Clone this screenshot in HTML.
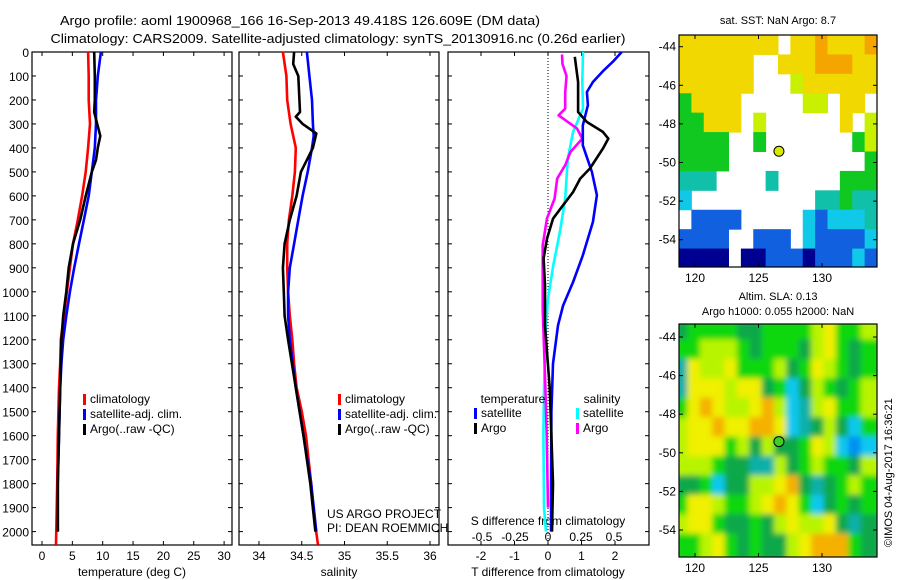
<!DOCTYPE html>
<html><head><meta charset="utf-8"><style>
html,body{margin:0;padding:0;background:#fff;}
svg{display:block;font-family:"Liberation Sans",sans-serif;}
</style></head><body>
<svg id="c" width="900" height="580" viewBox="0 0 900 580" xmlns="http://www.w3.org/2000/svg">
<defs>
<filter id="blur" x="-5%" y="-5%" width="110%" height="110%"><feGaussianBlur stdDeviation="3"/></filter>
<clipPath id="clip2"><rect x="679" y="324" width="198" height="233"/></clipPath>
<clipPath id="clip1"><rect x="679" y="35" width="198" height="232"/></clipPath>
</defs>
<text x="300" y="25" font-size="13" text-anchor="middle" textLength="480" lengthAdjust="spacingAndGlyphs">Argo profile: aoml 1900968_166 16-Sep-2013 49.418S 126.609E (DM data)</text>
<text x="338" y="43" font-size="13" text-anchor="middle" textLength="575" lengthAdjust="spacingAndGlyphs">Climatology: CARS2009. Satellite-adjusted climatology: synTS_20130916.nc (0.26d earlier)</text>
<text x="778" y="24" font-size="11" text-anchor="middle">sat. SST: NaN Argo: 8.7</text>
<text x="778" y="300" font-size="11" text-anchor="middle">Altim. SLA: 0.13</text>
<text x="778" y="315" font-size="11" text-anchor="middle">Argo h1000: 0.055 h2000: NaN</text>
<text transform="translate(892,547) rotate(-90)" font-size="11">©IMOS 04-Aug-2017 16:36:21</text>
<g id="g"></g>
</svg>
<script>
// ---- data ----
const depthTicks = [0,100,200,300,400,500,600,700,800,900,1000,1100,1200,1300,1400,1500,1600,1700,1800,1900,2000];
const tempTicks = [0,5,10,15,20,25,30];
const salTicks = [34,34.5,35,35.5,36];
const tdiffTicks = [-2,-1,0,1,2];
const sdiffTicks = [-0.5,-0.25,0,0.25,0.5];
const latTicks = [-44,-46,-48,-50,-52,-54];
const lonTicks = [120,125,130];

const tClimDepth = [0,100,200,300,400,500,600,700,800,900,1000,1100,1200,1300,1400,1600,1800,2055];
const tClimVal   = [7.6,7.7,7.7,7.9,7.6,7.2,6.6,5.9,5.1,4.6,4.1,3.6,3.1,3.0,2.8,2.6,2.5,2.3];
const tSatDepth = [0,100,200,300,400,500,600,700,800,900,1000,1100,1200,1300,1400,1600,1800,2000];
const tSatVal   = [9.7,9.2,8.9,8.9,8.7,8.2,7.7,6.9,6.1,5.3,4.6,4.0,3.5,3.2,3.0,2.8,2.6,2.6];
const tArgoDepth = [0,100,200,250,300,350,400,450,500,600,700,800,900,1000,1100,1200,1400,1600,1800,2000];
const tArgoVal   = [8.6,8.7,8.7,8.6,9.1,9.6,9.2,8.9,8.2,7.2,6.3,5.1,4.4,4.0,3.5,3.2,3.0,2.8,2.6,2.6];

const sClimDepth = [0,100,200,300,400,500,600,700,800,900,1000,1100,1200,1300,1400,1500,1600,1700,1800,1900,2055];
const sClimVal   = [34.28,34.32,34.33,34.37,34.43,34.42,34.39,34.35,34.33,34.33,34.34,34.36,34.39,34.41,34.44,34.50,34.55,34.58,34.61,34.63,34.69];
const sSatDepth = [0,100,200,300,350,400,500,600,700,800,900,1000,1100,1200,1400,1600,1800,2000];
const sSatVal   = [34.56,34.59,34.62,34.63,34.64,34.62,34.57,34.51,34.46,34.41,34.36,34.34,34.34,34.36,34.43,34.52,34.61,34.67];
const sArgoDepth = [0,50,100,250,270,300,340,400,450,500,600,700,800,900,1000,1100,1200,1400,1600,1800,2000];
const sArgoVal   = [34.41,34.40,34.46,34.48,34.43,34.51,34.67,34.63,34.56,34.49,34.44,34.36,34.30,34.28,34.29,34.30,34.34,34.43,34.52,34.60,34.66];

const dTSatDepth = [0,40,80,125,167,222,306,389,500,597,709,848,959,1057,1140,1300,1500,2000];
const dTSatVal   = [2.2,1.94,1.64,1.34,1.16,1.19,1.04,1.04,1.31,1.46,1.34,1.04,0.75,0.45,0.3,0.15,0.1,0.09];
const dTArgoDepth = [20,125,250,292,333,361,403,486,528,584,639,695,778,861,973,1140,1400,1600,1800,2000];
const dTArgoVal   = [0.8,0.9,0.9,1.16,1.64,1.8,1.64,1.25,0.96,0.75,0.45,0.15,-0.03,-0.13,-0.09,-0.09,0.05,0.1,0.15,0.12];
const dSSatDepth = [0,125,236,333,444,611,750,889,1028,1140,1400,1600,1900,2000];
const dSSatVal   = [0.265,0.26,0.265,0.19,0.15,0.13,0.09,0.04,0,-0.015,-0.03,-0.035,-0.03,-0.015];
const dSArgoDepth = [10,50,100,170,236,264,319,361,417,472,528,611,695,806,1070,1400,1600,1900];
const dSArgoVal   = [0.106,0.11,0.14,0.13,0.13,0.08,0.22,0.26,0.17,0.13,0.07,0.05,-0.008,-0.04,-0.04,-0.02,-0.01,0];

const sstGrid = [
"yyyyyyyy.yyoyyyo",
"yyyyyy..yyyoooyy",
"yyyyyy...lyyyyyy",
"gyyyy.....ll.yy.",
"ggyyy.l......y.l",
"gggg..g.......gl",
"gggg...........g",
"ttt....t.....ggg",
"c..........ttgtt",
".bbbb.....cbccct",
"bbbb..bbb.cbbbbc",
"nnnn.nnbbbnbbbcb"];
const slaGrid = [
"GggggGGgggglyggl",
"gglllgGgggGlygGg",
"tyllyggglGgylgGg",
"tyyylyyGgcGlgGgl",
"gyoyllyolctlyggl",
"lyyoyyooyctGlGcg",
"lyyyglGlGGgylcbc",
"lllgGGttlGglggGl",
"GGgcGGllyoGtGglg",
"gyylgglyoygcGgGg",
"lyygGGgGlyllyGtG",
"gglygGgGGlyooogG"];
const argoLon = 126.609, argoLat = -49.418;

// ---- scales ----
const yD = d => 52 + d*0.2398;
const xT = t => 42 + t*6.07;
const xS = s => 259 + (s-34)*85.5;
const xTd = d => 548 + d*33.5;
const xSd = s => 548 + s*132;
const lonX = lo => 695 + (lo-120)*12.7;
const latY1 = la => 46.7 + (-44-la)*19.3;
const latY2 = la => 337 + (-44-la)*19.3;

const NS="http://www.w3.org/2000/svg";
const G=document.getElementById('g');
function el(tag, attrs, parent){const e=document.createElementNS(NS,tag);for(const k in attrs)e.setAttribute(k,attrs[k]);(parent||G).appendChild(e);return e;}
function txt(x,y,s,size,anchor,parent){const t=el('text',{x:x,y:y,'font-size':size,'text-anchor':anchor||'middle'},parent);t.textContent=s;return t;}

// ---- maps ----
const sstCol={o:'#f5a500',y:'#f0d800',l:'#c8f000',g:'#10c820',t:'#10c0a8',c:'#10c8e8',b:'#1060e0',n:'#000090'};
const slaCol={G:'#10a848',g:'#10d810',l:'#b8f400',y:'#f0f000',o:'#f5b000',t:'#10b0a8',c:'#10c8f0',b:'#0090f0'};
function drawMap(grid,cols,top,clip,name,blur){
  const g=el('g',{'clip-path':'url(#'+clip+')'});
  
  
  const inner=el('g',blur?{filter:'url(#blur)'}:{},g);
  const cw=198/16, ch=233/12;
  grid.forEach((row,r)=>{for(let c=0;c<row.length;c++){const k=row[c];if(cols[k]){
    const cell=el('rect',{x:679+c*cw-(blur?4:0),y:top+r*ch-(blur?4:0),width:cw+(blur?8:0.5),height:ch+(blur?8:0.5),fill:cols[k]},inner);
    
    
  }}});
}
drawMap(sstGrid,sstCol,35,'clip1','sst-map',false);
drawMap(slaGrid,slaCol,324,'clip2','sla-map',true);
[[35,latY1,'sst'],[324,latY2,'sla']].forEach(([top,ly,nm])=>{
  const fr=el('rect',{x:679,y:top,width:198,height:(nm==='sst'?232:233),fill:'none',stroke:'#000','stroke-width':1.2});
  
  
  const bottom=top+(nm==='sst'?232:233);
  latTicks.forEach(la=>{const y=ly(la);
    el('line',{x1:679,x2:683,y1:y,y2:y,stroke:'#000'});el('line',{x1:873,x2:877,y1:y,y2:y,stroke:'#000'});
    const t=txt(676,y+4,String(la),12,'end');
    
    });
  lonTicks.forEach(lo=>{const x=lonX(lo);
    el('line',{x1:x,x2:x,y1:top,y2:top+4,stroke:'#000'});el('line',{x1:x,x2:x,y1:bottom-4,y2:bottom,stroke:'#000'});
    const t=txt(x,bottom+15,String(lo),12);
    
    });
  const m=el('circle',{cx:lonX(argoLon),cy:ly(argoLat),r:5,fill:nm==='sst'?'#d8e800':'#40d020',stroke:'#000','stroke-width':1});
  
  
});

// ---- profile panels ----
const panels=[[32,232,'temperature'],[239,439,'salinity'],[448,649,'difference']];
panels.forEach(([x0,x1,nm])=>{
  const r=el('rect',{x:x0,y:52,width:x1-x0,height:493,fill:'none',stroke:'#000','stroke-width':1.2});
  
  
  depthTicks.forEach(d=>{const y=yD(d);
    el('line',{x1:x0,x2:x0+4,y1:y,y2:y,stroke:'#000'});el('line',{x1:x1-4,x2:x1,y1:y,y2:y,stroke:'#000'});});
});
depthTicks.forEach(d=>{const t=txt(29,yD(d)+5,String(d),12,'end');
  
  });
function xticks(ticks,fx,y,x0,x1,labY,nm,noMarks){ticks.forEach(v=>{const x=fx(v);
  if(!noMarks){el('line',{x1:x,x2:x,y1:52,y2:56,stroke:'#000'});el('line',{x1:x,x2:x,y1:541,y2:545,stroke:'#000'});}
  const t=txt(x,labY,String(v),12);
  
  });}
xticks(tempTicks,xT,0,32,232,560,'temperature-tick-label');
xticks(salTicks,xS,0,239,439,560,'salinity-tick-label');
xticks(tdiffTicks,xTd,0,448,649,560,'tdiff-tick-label');
xticks(sdiffTicks,xSd,0,448,649,541,'sdiff-tick-label',true);
[[132,576,'temperature (deg C)','temperature-axis-title'],[339,576,'salinity','salinity-axis-title'],[548,576,'T difference from climatology','tdiff-axis-title'],[548,525,'S difference from climatology','sdiff-axis-title']].forEach(([x,y,s,n])=>{const t=txt(x,y,s,12);
  
  });
const zl=el('line',{x1:xTd(0),x2:xTd(0),y1:52,y2:545,stroke:'#000','stroke-dasharray':'1,2'});



function line(ds,vs,fx,col,nm){
  const p=ds.map((d,i)=>fx(vs[i]).toFixed(1)+','+yD(d).toFixed(1)).join(' ');
  const pl=el('polyline',{points:p,fill:'none',stroke:col,'stroke-width':2.6,'stroke-linejoin':'round'});
  
  
}
line(tClimDepth,tClimVal,xT,'#ff0000','temp-climatology-line');
line(tSatDepth,tSatVal,xT,'#0000ff','temp-satellite-line');
line(tArgoDepth,tArgoVal,xT,'#000000','temp-argo-line');
line(sClimDepth,sClimVal,xS,'#ff0000','sal-climatology-line');
line(sSatDepth,sSatVal,xS,'#0000ff','sal-satellite-line');
line(sArgoDepth,sArgoVal,xS,'#000000','sal-argo-line');
line(dSSatDepth,dSSatVal,xSd,'#00ffff','sdiff-satellite-line');
line(dSArgoDepth,dSArgoVal,xSd,'#ff00ff','sdiff-argo-line');
line(dTSatDepth,dTSatVal,xTd,'#0000ff','tdiff-satellite-line');
line(dTArgoDepth,dTArgoVal,xTd,'#000000','tdiff-argo-line');

// legends
function leg(x,y,col,s,nm){
  const r=el('rect',{x:x,y:y-9,width:3,height:11,fill:col});
  
  
  const t=txt(x+7,y,s,12,'start');
  
  
}
[[32+51,'temp'],[239+99,'sal']].forEach(([x,p])=>{
  leg(x,403,'#ff0000','climatology',p+'-legend-climatology');
  leg(x,418,'#0000ff','satellite-adj. clim.',p+'-legend-satellite');
  leg(x,433,'#000000','Argo(..raw -QC)',p+'-legend-argo');
});
let t1=txt(513,403,'temperature',12);


let t2=txt(602,403,'salinity',12);


leg(474,417,'#0000ff','satellite','diff-legend-t-satellite');
leg(474,432,'#000000','Argo','diff-legend-t-argo');
leg(576,417,'#00ffff','satellite','diff-legend-s-satellite');
leg(576,432,'#ff00ff','Argo','diff-legend-s-argo');
let p1=txt(327,518,'US ARGO PROJECT',12,'start');


let p2=txt(327,532,'PI: DEAN ROEMMICH',12,'start');


</script>
</body></html>
